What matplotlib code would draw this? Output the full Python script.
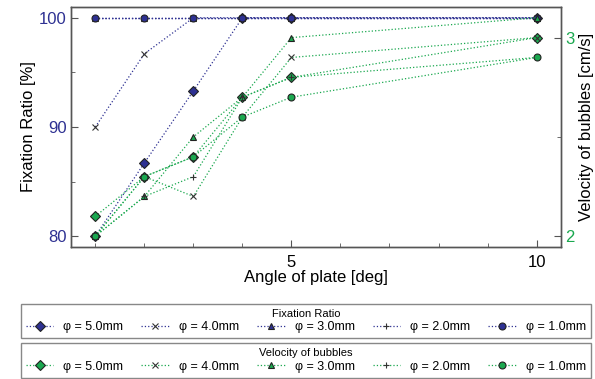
import matplotlib
matplotlib.use("Agg")
import matplotlib.pyplot as plt
from matplotlib.ticker import MultipleLocator, FixedLocator

plt.rcParams["font.family"] = ["Liberation Sans", "DejaVu Sans"]

angles = [1, 2, 3, 4, 5, 10]
labels = ["φ = 5.0mm", "φ = 4.0mm", "φ = 3.0mm", "φ = 2.0mm", "φ = 1.0mm"]
markers = ["D", "x", "^", "+", "o"]

# fixation ratio [%]
fix_50 = [80.0, 86.7, 93.3, 100, 100, 100]
fix_40 = [90.0, 96.7, 100, 100, 100, 100]
fix_30 = [100, 100, 100, 100, 100, 100]
fix_20 = [100, 100, 100, 100, 100, 100]
fix_10 = [100, 100, 100, 100, 100, 100]

# velocity of bubbles [cm/s]
vel_50 = [2.10, 2.30, 2.40, 2.70, 2.80, 3.00]
vel_40 = [2.00, 2.30, 2.20, 2.60, 2.90, 3.00]
vel_30 = [2.00, 2.20, 2.50, 2.70, 3.00, 3.10]
vel_20 = [2.00, 2.20, 2.30, 2.70, 2.80, 2.90]
vel_10 = [2.00, 2.30, 2.40, 2.60, 2.70, 2.90]

BLUE = "#2e3192"
GREEN = "#1aa84f"
SPINE = "#555555"

fig = plt.figure(figsize=(5.95, 3.79), dpi=100)
ax = fig.add_axes([0.119, 0.348, 0.824, 0.634])
ax2 = ax.twinx()

def style(m, col):
    kw = dict(marker=m, linestyle=":", linewidth=0.9, color=col,
              markersize=5, markeredgecolor="#222222", markeredgewidth=0.8)
    if m in ("x", "+"):
        kw["markeredgecolor"] = "#333333"
    else:
        kw["markerfacecolor"] = col
    return kw

h_fix = []
for ys, m, lab in zip([fix_50, fix_40, fix_30, fix_20, fix_10], markers, labels):
    h, = ax.plot(angles, ys, label=lab, **style(m, BLUE))
    h_fix.append(h)

h_vel = []
for ys, m, lab in zip([vel_50, vel_40, vel_30, vel_20, vel_10], markers, labels):
    h, = ax2.plot(angles, ys, label=lab, **style(m, GREEN))
    h_vel.append(h)

ax.set_xlim(0.5, 10.5)
ax.set_ylim(79, 101)
ax2.set_ylim(1.945, 3.155)

ax.xaxis.set_major_locator(FixedLocator([5, 10]))
ax.xaxis.set_minor_locator(FixedLocator([1, 2, 3, 4, 6, 7, 8, 9]))
ax.yaxis.set_major_locator(MultipleLocator(10))
ax.yaxis.set_minor_locator(MultipleLocator(5))
ax2.yaxis.set_major_locator(MultipleLocator(1))
ax2.yaxis.set_minor_locator(MultipleLocator(0.5))

ax.tick_params(axis="both", which="both", direction="in", colors=SPINE,
               labelsize=12, top=False, right=False)
ax.tick_params(which="major", length=5)
ax.tick_params(which="minor", length=3)
ax.tick_params(axis="x", labelcolor="black", pad=6)
ax.tick_params(axis="y", labelcolor=BLUE, pad=3)
ax2.tick_params(axis="y", which="both", direction="in", colors=SPINE,
                labelsize=12, labelcolor=GREEN, pad=3)
ax2.tick_params(which="major", length=5)
ax2.tick_params(which="minor", length=3)

for a in (ax, ax2):
    for s in a.spines.values():
        s.set_color(SPINE)
        s.set_linewidth(1.0)

ax.set_xlabel("Angle of plate [deg]", fontsize=12, labelpad=0)
ax.set_ylabel("Fixation Ratio [%]", fontsize=12, labelpad=2)
ax2.set_ylabel("Velocity of bubbles [cm/s]", fontsize=12, labelpad=3)

leg_kw = dict(ncol=5, mode="expand", fontsize=9, title_fontsize=8,
              fancybox=False, edgecolor="#888888", framealpha=1,
              handlelength=2.2, handletextpad=0.8, numpoints=1,
              borderaxespad=0, borderpad=0.4, labelspacing=0.2)
leg1 = fig.legend(handles=h_fix, title="Fixation Ratio",
                  loc="lower left", bbox_to_anchor=(0.035, 0.108, 0.958, 0.095),
                  **leg_kw)
leg1.get_frame().set_linewidth(1.0)
leg2 = fig.legend(handles=h_vel, title="Velocity of bubbles",
                  loc="lower left", bbox_to_anchor=(0.035, 0.003, 0.958, 0.095),
                  **leg_kw)
leg2.get_frame().set_linewidth(1.0)

fig.savefig("out.png", dpi=100)
